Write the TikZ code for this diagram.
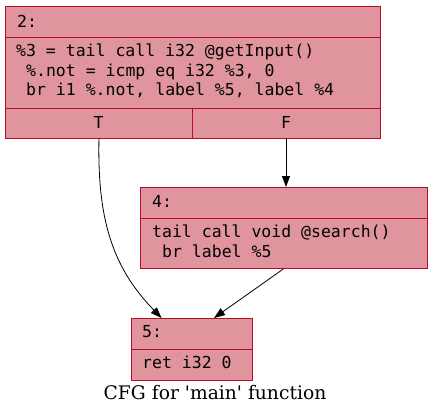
\documentclass[tikz,border=0pt]{standalone}
\usepackage{fontspec}
\setmainfont{DejaVu Serif}
\newfontfamily\cfgmono{DejaVu Sans Mono}
\usetikzlibrary{arrows.meta}
\definecolor{cellfill}{RGB}{224,148,157}
\definecolor{cellline}{RGB}{183,13,40}
\tikzset{
  cell/.style={draw=cellline, fill=cellfill, line width=0.9pt, rectangle, inner sep=0pt, anchor=north west},
  code/.style={anchor=base west, inner sep=0pt, font=\cfgmono\fontsize{16.5}{19.5}\selectfont},
  ccode/.style={anchor=base, inner sep=0pt, font=\cfgmono\fontsize{16.5}{19.5}\selectfont},
  edge/.style={draw=black, line width=0.8pt, -{Triangle[length=11pt,width=8pt]}}
}
\begin{document}
\begin{tikzpicture}[x=1pt,y=-1pt]
\useasboundingbox (0,0) rectangle (432,416);
% node 2
\node[cell, minimum width=375pt, minimum height=31pt] (n2h) at (5,5.5) {};
\node[cell, minimum width=375pt, minimum height=71pt] (n2b) at (5,36.5) {};
\node[cell, minimum width=187pt, minimum height=30pt] (n2t) at (5,107.5) {};
\node[cell, minimum width=188pt, minimum height=30pt] (n2f) at (192,107.5) {};
\node[code] (l2a) at (17,27) {2:};
\node[code] (l2b) at (16,56) {\%3 = tail call i32 @getInput()};
\node[code] (l2c) at (26,76) {\%.not = icmp eq i32 \%3, 0};
\node[code] (l2d) at (26,95.5) {br i1 \%.not, label \%5, label \%4};
\node[ccode] (lT) at (98.5,128) {T};
\node[ccode] (lF) at (286,128) {F};
% node 4
\node[cell, minimum width=287pt, minimum height=31pt] (n4h) at (139.5,187) {};
\node[cell, minimum width=287pt, minimum height=50pt] (n4b) at (139.5,218) {};
\node[code] (l4a) at (152,207) {4:};
\node[code] (l4b) at (152,237) {tail call void @search()};
\node[code] (l4c) at (162,257) {br label \%5};
% node 5
\node[cell, minimum width=121pt, minimum height=31pt] (n5h) at (130.5,318) {};
\node[cell, minimum width=121pt, minimum height=30.5pt] (n5b) at (130.5,349) {};
\node[code] (l5a) at (142,337.5) {5:};
\node[code] (l5b) at (142,368) {ret i32 0};
% caption
\node[anchor=base, inner sep=0pt, font=\fontsize{18.7}{22}\selectfont] (cap) at (215,399.5) {CFG for \textquotesingle main\textquotesingle\ function};
% edges
\coordinate (tin) at (161.5,318);
\coordinate (ein) at (214,318);
\draw[edge] (n2t.south) .. controls (97.5,215) and (110,265) .. (tin);
\draw[edge] (n2f.south -| lF) -- (n4h.north -| lF);
\draw[edge] (n4b.south) -- (ein);
\end{tikzpicture}
\end{document}
